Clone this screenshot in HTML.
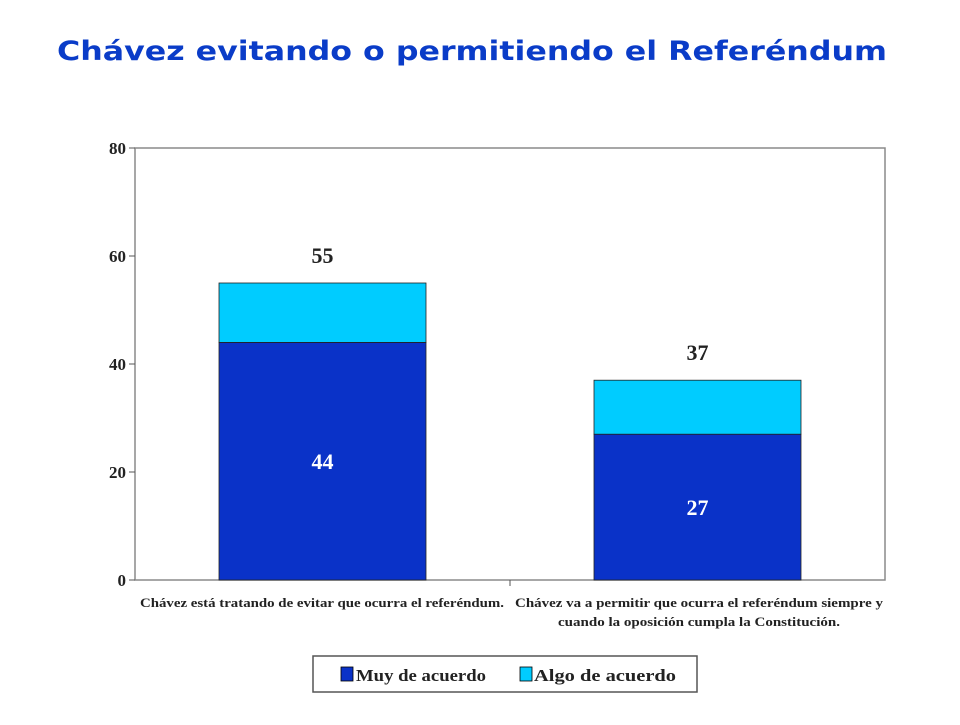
<!DOCTYPE html>
<html><head><meta charset="utf-8"><style>
body{margin:0;background:#fff;width:960px;height:720px;overflow:hidden}
</style></head><body>
<svg id="c" width="960" height="720" xmlns="http://www.w3.org/2000/svg">
<text x="472" y="60" text-anchor="middle" font-family="DejaVu Sans, sans-serif" font-weight="bold" font-size="27" fill="#0a3cc8" textLength="830" lengthAdjust="spacingAndGlyphs">Chávez evitando o permitiendo el Referéndum</text>
<rect x="135" y="148" width="750" height="432" fill="#fff" stroke="#8a8a8a" stroke-width="1.5"/>
<g id="g"></g>
<rect x="313" y="656" width="384" height="36" fill="#fff" stroke="#555" stroke-width="1.5"/>
<g>
<rect x="341" y="667" width="12" height="14" fill="#0a32c8" stroke="#000" stroke-width="0.8"/>
<text x="356" y="681" font-family="Liberation Serif, serif" font-weight="bold" font-size="17" fill="#222" textLength="130" lengthAdjust="spacingAndGlyphs">Muy de acuerdo</text></g>
<g>
<rect x="520" y="667" width="12" height="14" fill="#00ccff" stroke="#000" stroke-width="0.8"/>
<text x="534" y="681" font-family="Liberation Serif, serif" font-weight="bold" font-size="17" fill="#222" textLength="142" lengthAdjust="spacingAndGlyphs">Algo de acuerdo</text></g>
</svg>
<script>
const categories=["Chávez está tratando de evitar que ocurra el referéndum.","Chávez va a permitir que ocurra el referéndum siempre y|cuando la oposición cumpla la Constitución."];
const muy=[44,27];
const algo=[11,10];
const totals=[55,37];
const yTicks=[0,20,40,60,80];
const NS="http://www.w3.org/2000/svg",g=document.getElementById('g');
const x0=135,x1=885,yb=580,yt=148,ymax=80;
const y=v=>yb-(v/ymax)*(yb-yt);
const band=(x1-x0)/categories.length,bw=207;
function mk(t,a,txt){const e=document.createElementNS(NS,t);for(const k in a)e.setAttribute(k,a[k]);if(txt!=null)e.textContent=txt;g.appendChild(e);return e;}
yTicks.forEach(v=>{
 const l=mk('line',{x1:129,x2:135,y1:y(v),y2:y(v),stroke:'#555'});
 
 
 const t=mk('text',{x:126,y:y(v)+6,'text-anchor':'end','font-family':'Liberation Serif, serif','font-weight':'bold','font-size':17,fill:'#222'},v);
 
 
});
mk('line',{x1:x0+band,x2:x0+band,y1:yb,y2:yb+6,stroke:'#555'});
categories.forEach((c,i)=>{
 const cx=x0+band*i+band/2,bx=cx-bw/2;
 const r1=mk('rect',{x:bx,y:y(muy[i]),width:bw,height:yb-y(muy[i]),fill:'#0a32c8',stroke:'#222','stroke-width':0.8});
 
 
 const r2=mk('rect',{x:bx,y:y(muy[i]+algo[i]),width:bw,height:y(muy[i])-y(muy[i]+algo[i]),fill:'#00ccff',stroke:'#222','stroke-width':0.8});
 
 
 const t1=mk('text',{x:cx,y:(y(muy[i])+yb)/2+8,'text-anchor':'middle','font-family':'Liberation Serif, serif','font-weight':'bold','font-size':22,fill:'#fff'},muy[i]);
 
 
 const t2=mk('text',{x:cx,y:y(totals[i])-20,'text-anchor':'middle','font-family':'Liberation Serif, serif','font-weight':'bold','font-size':22,fill:'#222'},totals[i]);
 
 
});
const labs=[[322,607,categories[0].split('|')[0],364],[699,607,categories[1].split('|')[0],368],[699,626,categories[1].split('|')[1],282]];
labs.forEach(a=>{
 const t=mk('text',{x:a[0],y:a[1],'text-anchor':'middle','font-family':'Liberation Serif, serif','font-weight':'bold','font-size':13,fill:'#222',textLength:a[3],lengthAdjust:'spacingAndGlyphs'},a[2]);
 
 
});
</script>
</body></html>
